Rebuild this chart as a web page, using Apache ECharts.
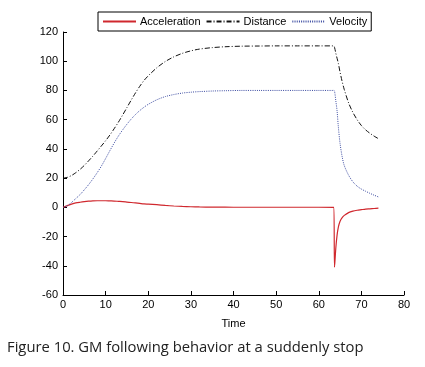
<!DOCTYPE html>
<html>
<head>
<meta charset="utf-8">
<script src="https://cdn.jsdelivr.net/npm/echarts@6/dist/echarts.min.js"></script>
<style>
  html, body { margin: 0; padding: 0; background: #fff; }
  #chart { width: 425px; height: 367px; }
</style>
</head>
<body>
<div id="chart"></div>
<script>
var times = [0, 1, 2, 3, 4, 5, 6, 7, 8, 9, 10, 11, 12, 13, 14, 15, 16, 17, 18, 19, 20, 22, 24, 26, 28, 30, 32, 35, 38, 42, 46, 50, 55, 60,
    63.5, 63.7, 64, 64.3, 64.6, 65, 65.5, 66, 67, 68, 69, 70, 71, 72, 73, 74];
var acceleration = [0, 1.2, 2.2, 3, 3.5, 3.9, 4.2, 4.4, 4.5, 4.5, 4.5, 4.4, 4.3, 4.1, 3.9, 3.6, 3.3, 3.0, 2.7, 2.4, 2.2, 1.8, 1.3, 0.9, 0.6, 0.4, 0.25, 0.15, 0.1, 0.05, 0.05, 0.05, 0.05, 0.05,
    0, -41, -28, -19, -13.5, -9.5, -7, -5.5, -3.6, -2.6, -2, -1.6, -1.2, -1, -0.8, -0.6];
var distance = [20, 20.5, 21.8, 23.7, 26, 28.7, 31.8, 35, 38.5, 42, 45.6, 49.5, 53.8, 58.3, 63.2, 68.3, 73.4, 78.3, 82.8, 86.8, 90, 95.5, 99.8, 103, 105.4, 107.1, 108.3, 109.3, 109.9, 110.3, 110.4, 110.5, 110.5, 110.5,
    110.5, 109.5, 105.5, 102, 98.5, 92.5, 86, 80.5, 71.5, 65, 60, 56, 53, 50.7, 48.7, 47];
var velocity = [0, 1, 3.3, 6, 8.7, 12, 15.5, 19.4, 23.6, 28.2, 33.4, 38.8, 44, 48.8, 53, 56.9, 60.4, 63.5, 66.2, 68.5, 70.5, 73.6, 75.8, 77.2, 78.2, 78.8, 79.2, 79.6, 79.8, 80, 80, 80, 80, 80,
    80, 79.5, 73, 66, 55, 43.7, 34.5, 28.5, 22, 17.5, 14.5, 12.5, 11, 9.6, 8.3, 7.1];
var seriesNames = ['Acceleration', 'Distance', 'Velocity'];
var caption = 'Figure 10. GM following behavior at a suddenly stop';

function pairs(values) {
    return times.map(function (t, i) { return [t, values[i]]; });
}

var chart = echarts.init(document.getElementById('chart'));
var labelStyle = { color: '#000', fontSize: 11, fontFamily: 'Liberation Sans' };

chart.setOption({
    animation: false,
    title: {
        text: caption,
        left: 7,
        top: 340,
        padding: 0,
        textStyle: { color: '#222', fontSize: 14.8, fontWeight: 'normal', fontFamily: 'Open Sans' }
    },
    legend: {
        data: seriesNames,
        left: 98,
        top: 12,
        padding: [4, 4],
        itemGap: 5,
        itemWidth: 33,
        itemHeight: 11,
        itemStyle: { opacity: 0, borderWidth: 0 },
        borderColor: '#000',
        borderWidth: 1,
        borderRadius: 0,
        backgroundColor: '#fff',
        textStyle: Object.assign({ padding: [0, 0, 0, -1] }, labelStyle)
    },
    grid: { left: 63, right: 21, top: 32, bottom: 72 },
    xAxis: {
        type: 'value', min: 0, max: 80, interval: 10,
        name: 'Time', nameLocation: 'middle', nameGap: 23,
        nameTextStyle: labelStyle,
        axisLine: { onZero: false, lineStyle: { color: '#000', width: 1 } },
        axisTick: { inside: true, length: 4, lineStyle: { color: '#000' } },
        axisLabel: Object.assign({ margin: 4 }, labelStyle),
        splitLine: { show: false }
    },
    yAxis: {
        type: 'value', min: -60, max: 120, interval: 20,
        axisLine: { show: true, lineStyle: { color: '#000', width: 1 } },
        axisTick: { show: true, inside: true, length: 4, lineStyle: { color: '#000' } },
        axisLabel: Object.assign({ margin: 5 }, labelStyle),
        splitLine: { show: false }
    },
    series: [
        { type: 'line', name: 'Acceleration', data: pairs(acceleration), symbol: 'none', smooth: 0.3,
          lineStyle: { color: '#d0282e', width: 1.2 }, itemStyle: { color: '#d0282e' } },
        { type: 'line', name: 'Distance', data: pairs(distance), symbol: 'none', smooth: 0.3,
          lineStyle: { color: '#111', width: 1, type: [5, 2, 1, 2] }, itemStyle: { color: '#111' } },
        { type: 'line', name: 'Velocity', data: pairs(velocity), symbol: 'none', smooth: 0.3,
          lineStyle: { color: '#3a4aa0', width: 1, type: [1, 1.2] }, itemStyle: { color: '#3a4aa0' } }
    ]
});
</script>
</body>
</html>
